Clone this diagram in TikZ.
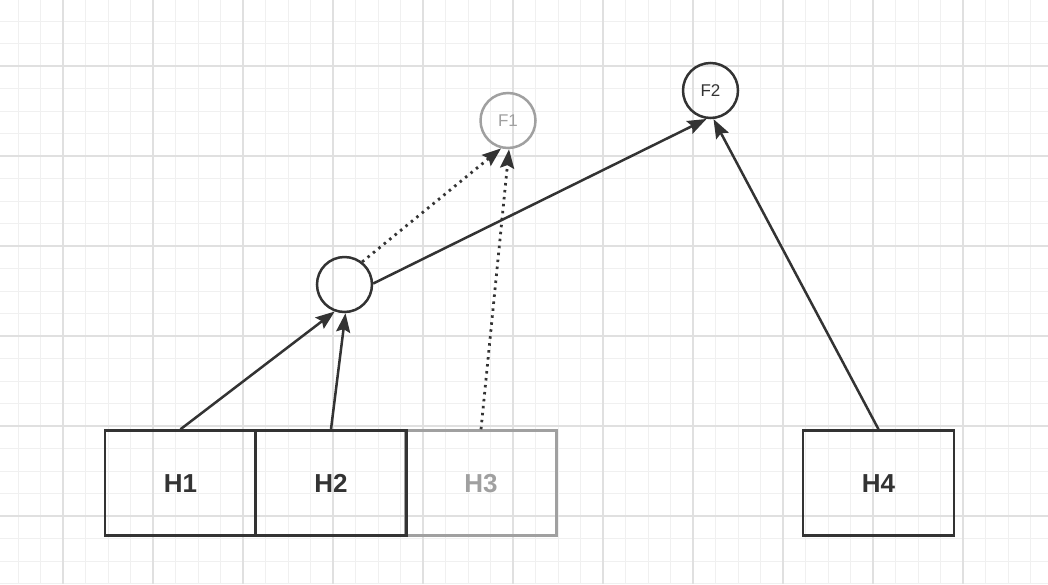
\documentclass[tikz,border=0pt]{standalone}
\usepackage{fontspec}
\setmainfont{Liberation Sans}
\usetikzlibrary{arrows.meta}
\definecolor{ink}{HTML}{333333}
\definecolor{faded}{HTML}{A0A0A0}
\definecolor{gridminor}{HTML}{F0F0F0}
\definecolor{gridmajor}{HTML}{E0E0E0}
\begin{document}
\begin{tikzpicture}[x=1pt,y=-1pt,
  hbox/.style={draw=ink,line width=2.5pt,minimum width=151pt,minimum height=105pt,inner sep=0pt,text height=19pt,text depth=0pt,font=\fontsize{26}{30}\selectfont\bfseries,text=ink},
  hboxfaded/.style={hbox,draw=faded,text=faded},
  fcirc/.style={circle,draw=ink,line width=2.5pt,minimum size=55pt,inner sep=0pt,font=\fontsize{17}{20}\selectfont,text=ink},
  fcircfaded/.style={fcirc,draw=faded,text=faded},
  arr/.style={draw=ink,line width=2.5pt,-{Stealth[length=19pt,width=14pt,inset=3pt]}},
  dotarr/.style={arr,dash pattern=on 2.5pt off 4.5pt,line width=2.8pt}
]
\useasboundingbox (0,0) rectangle (1048,584);
\fill[white] (0,0) rectangle (1048,584);
% grid
\foreach \i in {0,...,47} {
  \draw[gridminor,line width=1pt] ({18+22.5*\i-22.5},0) -- ({18+22.5*\i-22.5},584);
}
\foreach \i in {0,...,27} {
  \draw[gridminor,line width=1pt] (0,{21+22.5*\i-22.5}) -- (1048,{21+22.5*\i-22.5});
}
\foreach \i in {0,...,12} {
  \draw[gridmajor,line width=1.2pt] ({63+90*\i-90},0) -- ({63+90*\i-90},584);
}
\foreach \i in {0,...,7} {
  \draw[gridmajor,line width=1.2pt] (0,{66+90*\i-90}) -- (1048,{66+90*\i-90});
}
% nodes
\node[hboxfaded] (h3) at (481,483) {H3};
\node[hbox] (h1) at (180.5,483) {H1};
\node[hbox] (h2) at (331,483) {H2};
\node[hbox] (h4) at (878.5,483) {H4};
\node[fcirc] (c) at (344.5,284.5) {};
\node[fcircfaded] (f1) at (508,120.5) {F1};
\node[fcirc] (f2) at (710.5,90.5) {F2};
% connectors
\draw[arr] (h1.north) -- (c.250);
\draw[arr] (h2.north) -- (c.272);
\draw[dotarr] (c.52) -- (f1.256);
\draw[dotarr] (h3.north) -- (f1.272);
\draw[arr] (c.2) -- (f2.262);
\draw[arr] (h4.north) -- (f2.276);
\end{tikzpicture}
\end{document}
